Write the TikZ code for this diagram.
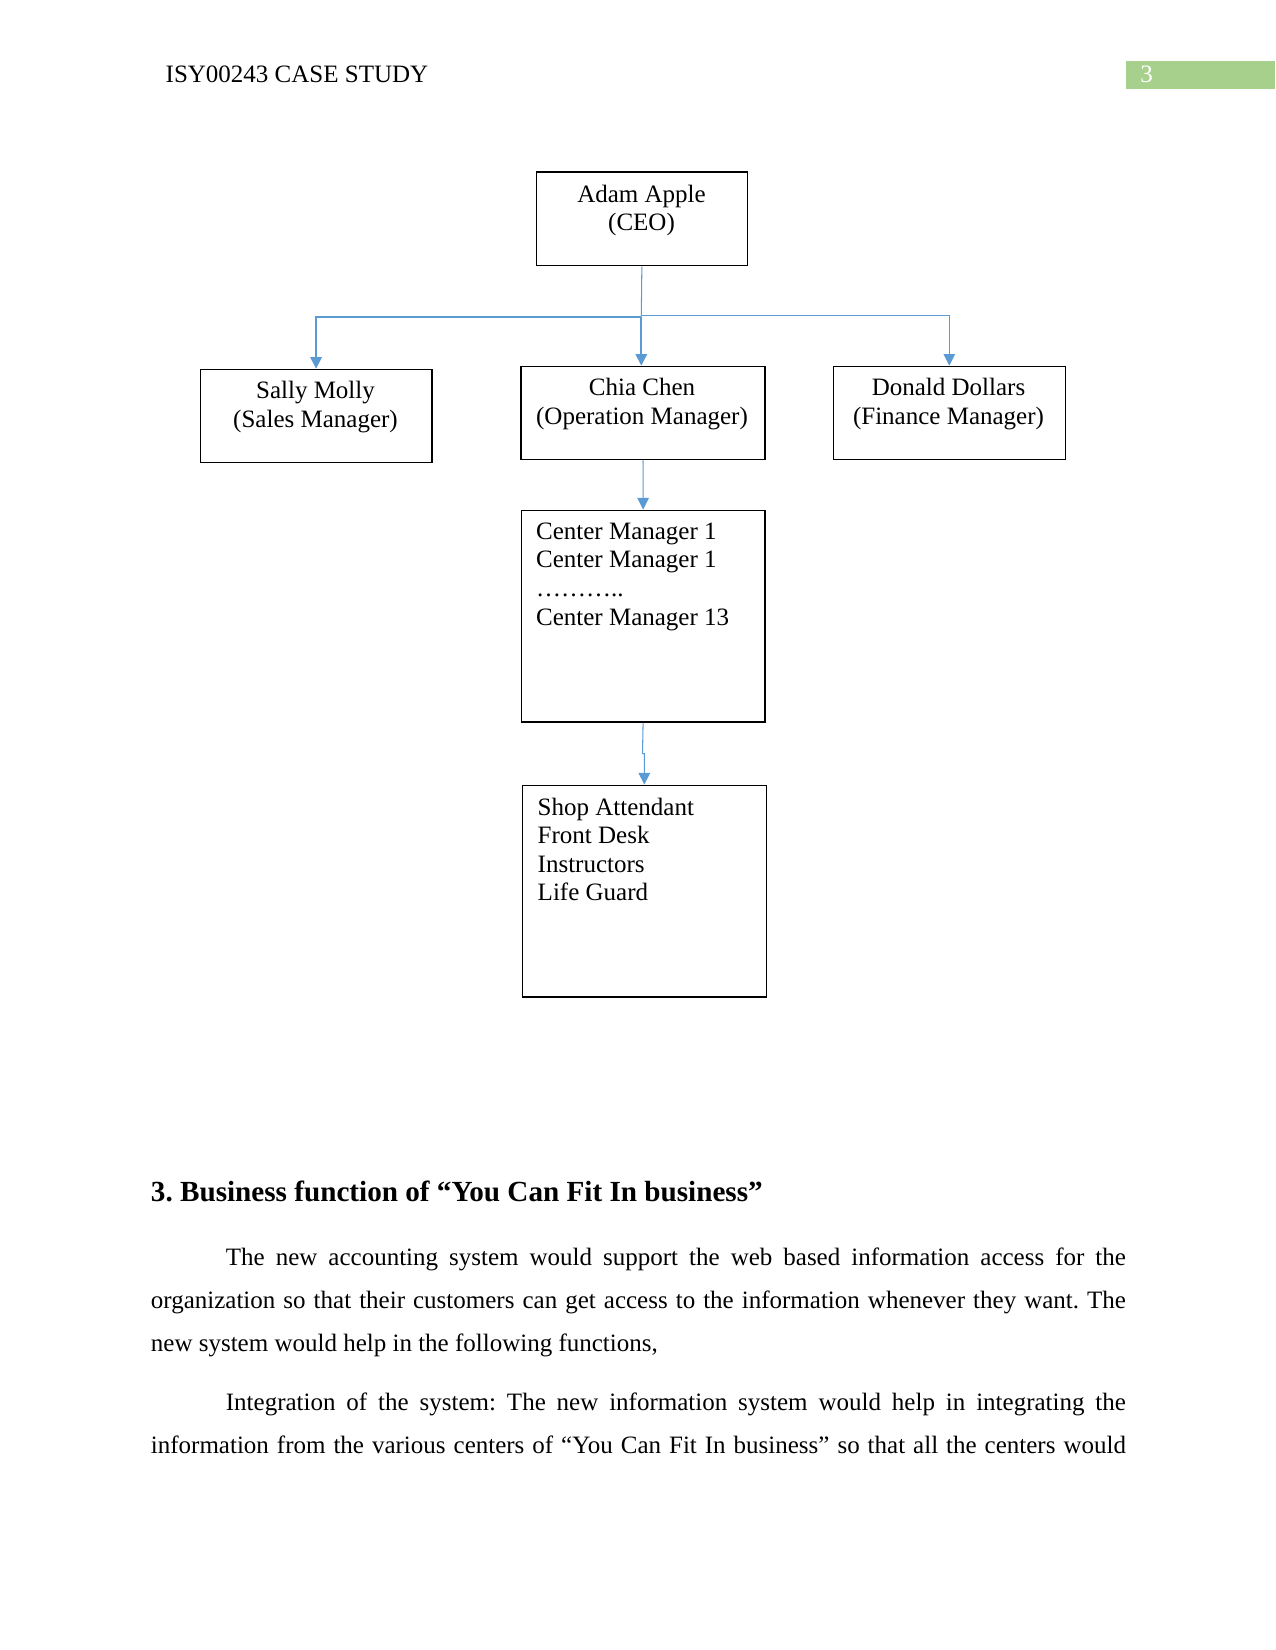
\documentclass[tikz,border=0pt]{standalone}
\usepackage{fontspec}
\setmainfont{Liberation Serif}
\usetikzlibrary{arrows.meta}
\definecolor{linkblue}{HTML}{5B9BD5}
\definecolor{hdrgreen}{HTML}{A8D08D}
\frenchspacing
\begin{document}
\begin{tikzpicture}[x=0.48pt,y=-0.48pt,
  orgbox/.style={draw=black, line width=0.6pt, inner sep=0pt, anchor=north west},
  txt/.style={anchor=base, inner sep=0pt, font=\fontsize{12}{14}\selectfont},
  txtl/.style={anchor=base west, inner sep=0pt, font=\fontsize{12}{14}\selectfont},
  plain/.style={draw=linkblue, line width=0.5pt},
  conn/.style={draw=linkblue, line width=0.5pt, -{Triangle[width=5.5pt,length=5.6pt,fill=linkblue]}},
  connthick/.style={conn, line width=1pt},
]
\useasboundingbox (0,0) rectangle (1275,1650);

% header
\node[txtl] (hdr) at (165.3,82.7) {ISY00243 CASE STUDY};
\fill[hdrgreen] (1125.9,60.7) rectangle (1275,89);
\node[txtl, text=white] (pageno) at (1140,82.7) {3};

% boxes
\node[orgbox, minimum width=101.5pt, minimum height=44.9pt] (ceo) at (535.5,171.5) {};
\node[orgbox, minimum width=111.3pt, minimum height=44.9pt] (sally) at (199.5,368.7) {};
\node[orgbox, minimum width=117.1pt, minimum height=44.8pt] (chia) at (520.4,365.7) {};
\node[orgbox, minimum width=111.3pt, minimum height=44.8pt] (donald) at (832.7,365.7) {};
\node[orgbox, minimum width=116.9pt, minimum height=101.6pt] (center) at (520.7,509.6) {};
\node[orgbox, minimum width=117.1pt, minimum height=101.6pt] (shop) at (521.7,784.6) {};

% box texts
\node[txt] (ceoA) at (641.5,202.5) {Adam Apple};
\node[txt] (ceoB) at (641.5,230.5) {(CEO)};
\node[txt] (sallyA) at (315.5,399) {Sally Molly};
\node[txt] (sallyB) at (315.5,427.5) {(Sales Manager)};
\node[txt] (chiaA) at (642,396) {Chia Chen};
\node[txt] (chiaB) at (642,424.5) {(Operation Manager)};
\node[txt] (donaldA) at (948.5,396) {Donald Dollars};
\node[txt] (donaldB) at (948.5,424.5) {(Finance Manager)};

\node[txtl] (cmA) at (535.7,539.3) {Center Manager 1};
\node[txtl] (cmB) at (535.7,567.9) {Center Manager 1};
\node[txtl] (cmC) at (535.7,596.4) {\ldots\ldots\ldots..};
\node[txtl] (cmD) at (535.7,625) {Center Manager 13};

\node[txtl] (shA) at (537.3,815) {Shop Attendant};
\node[txtl] (shB) at (537.3,843) {Front Desk};
\node[txtl] (shC) at (537.3,872.5) {Instructors};
\node[txtl] (shD) at (537.3,900.7) {Life Guard};

% connectors
\coordinate (jl) at (641.3,316.7);
\coordinate (jr) at (641.3,315.3);
\coordinate (jc) at (642.5,753.6);
\draw[plain] (ceo.south) -- (jl);
\draw[connthick] (jl) -| (sally.north);
\draw[connthick] (jl) -- (jl |- chia.north);
\draw[conn] (jr) -| (donald.north);
\draw[conn] (chia.south) -- (center.north);
\draw[conn] (center.south) -- (jc) -| (shop.north);

% body text
\node[txtl, font=\bfseries\fontsize{14}{16}\selectfont] (h3) at (150.5,1201) {3. Business function of “You Can Fit In business”};
\node[txtl] (p1a) at (225.5,1265) {\makebox[432pt][s]{The new accounting system would support the web based information access for the}};
\node[txtl] (p1b) at (150.5,1308) {\makebox[468pt][s]{organization so that their customers can get access to the information whenever they want. The}};
\node[txtl] (p1c) at (150.5,1351) {new system would help in the following functions,};
\node[txtl] (p2a) at (225.5,1410.5) {\makebox[432pt][s]{Integration of the system: The new information system would help in integrating the}};
\node[txtl] (p2b) at (150.5,1453.6) {\makebox[468pt][s]{information from the various centers of “You Can Fit In business” so that all the centers would}};
\end{tikzpicture}
\end{document}
